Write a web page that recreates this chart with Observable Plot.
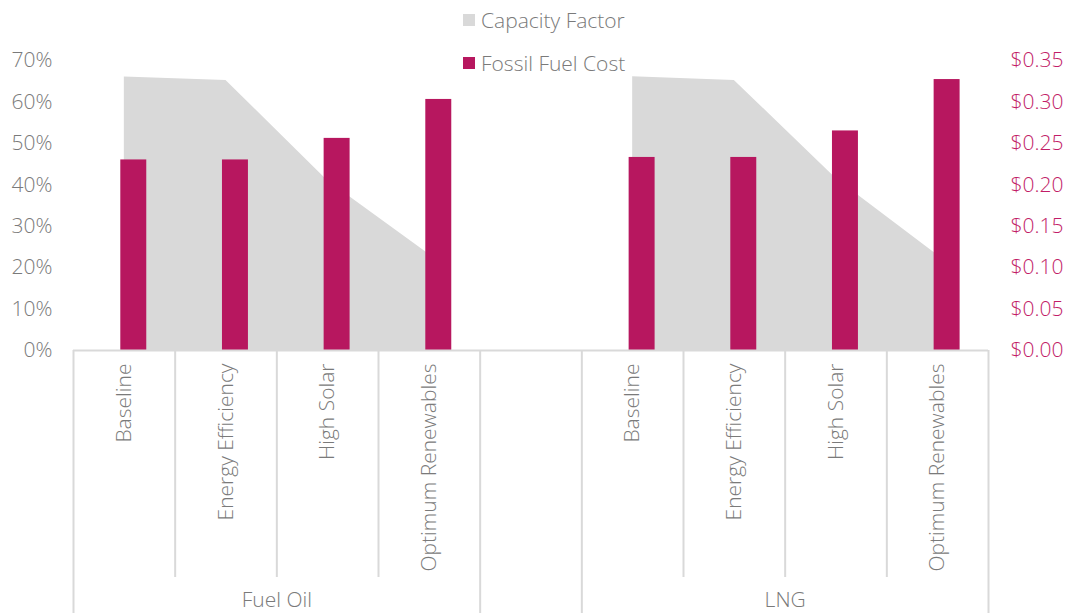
<!DOCTYPE html>
<html><head><meta charset="utf-8">
<script src="https://cdn.jsdelivr.net/npm/d3@7"></script>
<script src="https://cdn.jsdelivr.net/npm/@observablehq/plot@0.6"></script>
<style>
body{margin:0;background:#fff;font-family:"Open Sans",sans-serif;}
#wrap{position:relative;width:1075px;height:613px;overflow:hidden;}
#legend{position:absolute;left:463px;top:6px;font-size:21px;font-weight:300;color:#7a7a7a;}
.item{display:flex;align-items:center;height:28px;margin-bottom:15px;white-space:nowrap}
.sw{width:12px;height:12px;margin-right:6px;flex:none}
</style></head><body><div id="wrap"><div id="legend"></div></div>
<script>
const groups = ["Fuel Oil", "LNG"];
const scenarios = ["Baseline", "Energy Efficiency", "High Solar", "Optimum Renewables"];
const capacityFuelOil = [66.0, 65.2, 41.0, 23.2];
const capacityLNG = [66.1, 65.2, 41.5, 23.0];
const costFuelOil = [0.230, 0.230, 0.256, 0.303];
const costLNG = [0.233, 0.233, 0.265, 0.327];
const pctTicks = [0, 10, 20, 30, 40, 50, 60, 70];
const costTicks = [0, 0.05, 0.10, 0.15, 0.20, 0.25, 0.30, 0.35];
const seriesNames = ["Capacity Factor", "Fossil Fuel Cost"];
const seriesColors = ["#d9d9d9", "#b7175f"];

const COST_TO_PCT = 70 / 0.35;
const GAP = "gap";
const rows = [];
[[groups[0], capacityFuelOil, costFuelOil], [groups[1], capacityLNG, costLNG]].forEach(([g, cap, cost]) => {
  scenarios.forEach((s, i) => rows.push({cat: g + "|" + s, group: g, scenario: s, capacity: cap[i], cost: cost[i]}));
});
const domain = [...scenarios.map(s => groups[0] + "|" + s), GAP, ...scenarios.map(s => groups[1] + "|" + s)];

const W = 1075, H = 613, mL = 73, mR = 87, mT = 60, mB = 263;
const step = (W - mL - mR) / domain.length;
const textColor = "#7a7a7a";
const grid = "#d9d9d9";
const FS = 21;

const innerBounds = domain.filter((d, i) => i > 0 && d !== GAP && !d.endsWith("|" + scenarios[0]));
const fullBounds = [domain[0], GAP, domain[5]];

const chart = Plot.plot({
  width: W, height: H,
  marginLeft: mL, marginRight: mR, marginTop: mT, marginBottom: mB,
  style: {fontFamily: "'Open Sans', sans-serif", fontSize: FS + "px", fontWeight: 300, color: textColor, background: "transparent"},
  x: {type: "band", domain, paddingInner: 0, paddingOuter: 0, round: false, axis: null},
  y: {domain: [0, 70], axis: null},
  marks: [
    Plot.areaY(rows, {x: "cat", y: "capacity", z: "group", fill: seriesColors[0]}),
    Plot.barY(rows, {x: "cat", y: d => d.cost * COST_TO_PCT, fill: seriesColors[1], insetLeft: 47.3, insetRight: 28.4}),
    Plot.ruleY([0], {stroke: grid, strokeWidth: 2}),
    Plot.ruleX(innerBounds, {x: d => d, dx: -step / 2, stroke: grid, strokeWidth: 2, insetTop: 290, insetBottom: -227}),
    Plot.ruleX(fullBounds, {x: d => d, dx: -step / 2, stroke: grid, strokeWidth: 2, insetTop: 290, insetBottom: -270}),
    Plot.ruleX([domain[domain.length - 1]], {x: d => d, dx: step / 2, stroke: grid, strokeWidth: 2, insetTop: 290, insetBottom: -270}),
    Plot.axisX({domain, label: null, tickRotate: -90, tickSize: 0, tickPadding: 13, tickFormat: d => d === GAP ? "" : d.split("|")[1], fill: textColor, fontSize: FS}),
    Plot.axisY({ticks: pctTicks, tickFormat: d => d + "%", tickSize: 0, tickPadding: 21, fill: textColor, fontSize: FS, label: null}),
    Plot.axisY({anchor: "right", ticks: costTicks.map(c => c * COST_TO_PCT), tickFormat: d => "$" + (d / COST_TO_PCT).toFixed(2), tickSize: 0, tickPadding: 22, fill: "#c21d68", fontSize: FS, label: null}),
    Plot.text(groups, {x: g => g + "|" + scenarios[1], dx: step / 2, frameAnchor: "bottom", dy: 256, lineAnchor: "bottom", text: d => d, fill: textColor, fontSize: FS})
  ]
});
document.getElementById("wrap").prepend(chart);

const legend = document.getElementById("legend");
seriesNames.forEach((n, i) => {
  const it = document.createElement("div");
  it.className = "item";
  it.innerHTML = `<span class="sw" style="background:${seriesColors[i]}"></span><span>${n}</span>`;
  legend.appendChild(it);
});
</script>
</body></html>
